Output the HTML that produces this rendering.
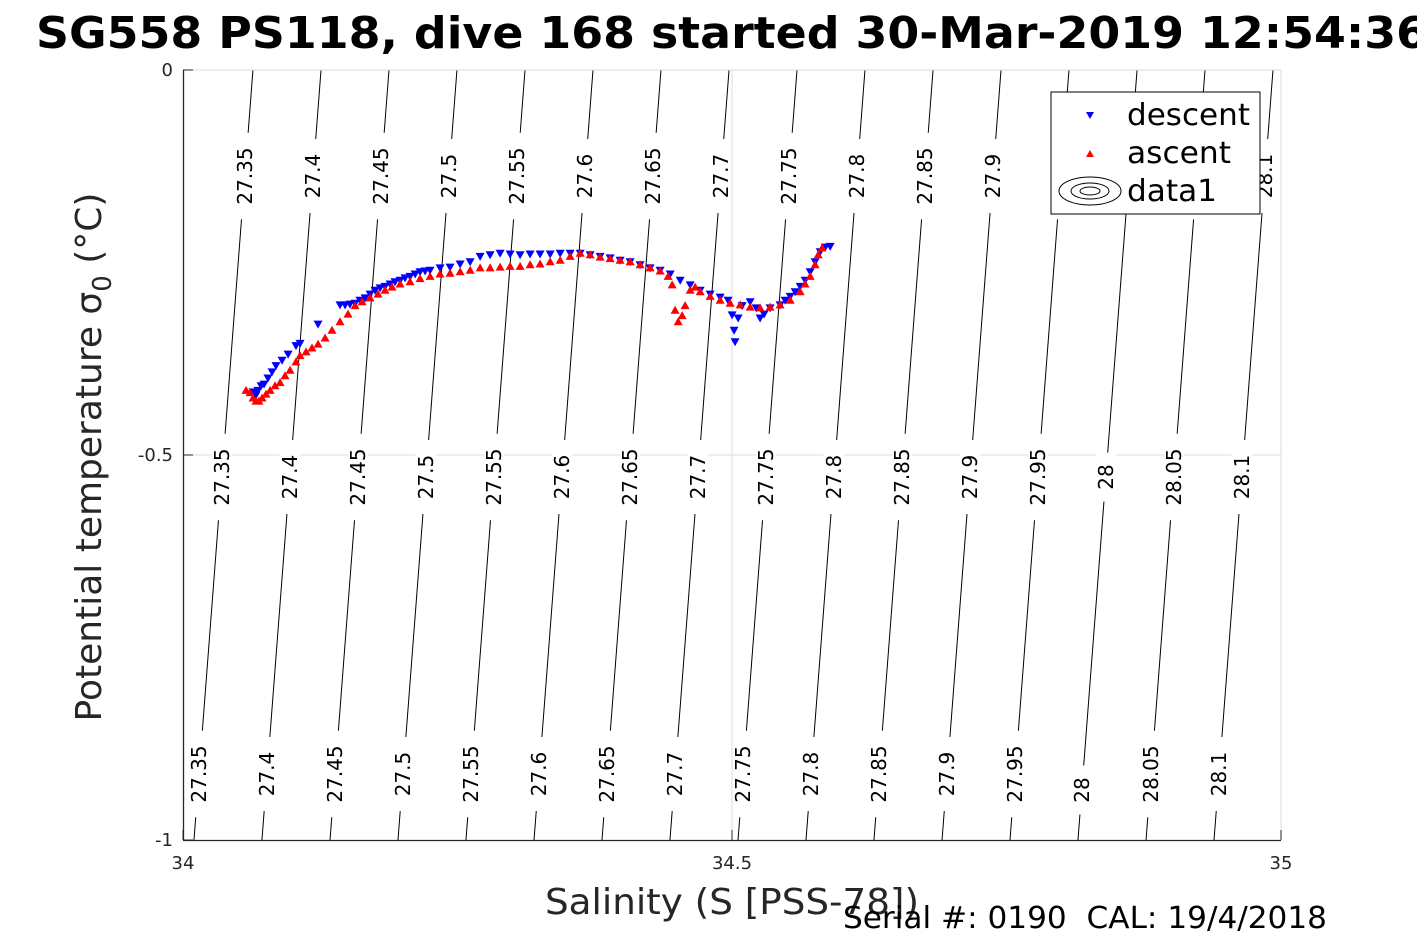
<!DOCTYPE html>
<html><head><meta charset="utf-8"><style>
body{margin:0;background:#fff;}
svg{display:block;font-family:"DejaVu Sans","Liberation Sans",sans-serif;}
</style></head><body>
<svg id="chart" width="1417" height="945" viewBox="0 0 1417 945" xmlns="http://www.w3.org/2000/svg">
<rect width="1417" height="945" fill="#fff"/>
<text x="36" y="48" font-size="44" font-weight="bold" fill="#000" textLength="1392" lengthAdjust="spacingAndGlyphs">SG558 PS118, dive 168 started 30-Mar-2019 12:54:36</text>
<defs><clipPath id="clip"><rect x="183" y="70" width="1098" height="770"/></clipPath></defs>
<g id="grid"></g>
<g id="contours" clip-path="url(#clip)"></g>
<g id="data" clip-path="url(#clip)"></g>
<g id="axes"></g>
<text x="732" y="914" font-size="36" text-anchor="middle" fill="#262626" textLength="374" lengthAdjust="spacingAndGlyphs">Salinity (S [PSS-78])</text>
<text transform="translate(101,457) rotate(-90)" font-size="36" text-anchor="middle" fill="#262626">Potential temperature σ<tspan font-size="26" dy="10">0</tspan><tspan dy="-10"> (°C)</tspan></text>
<text x="843" y="928" font-size="30" fill="#000" textLength="484" lengthAdjust="spacingAndGlyphs">Serial #: 0190&#160;&#160;CAL: 19/4/2018</text>
<g id="legend">
<rect x="1051" y="92" width="209" height="122" fill="#fff" stroke="#000" stroke-width="1"/>
<path d="M1086,112 L1094,112 L1090,119 Z" fill="#00f"/>
<text x="1127" y="125" font-size="30" textLength="123" lengthAdjust="spacingAndGlyphs">descent</text>
<path d="M1086,157 L1094,157 L1090,150 Z" fill="#f00"/>
<text x="1127" y="163" font-size="30" textLength="104" lengthAdjust="spacingAndGlyphs">ascent</text>
<g fill="none" stroke="#000" stroke-width="1">
<ellipse cx="1090" cy="191" rx="31" ry="14"/><ellipse cx="1090" cy="191" rx="19" ry="8"/><ellipse cx="1090" cy="191" rx="10" ry="4"/></g>
<text x="1127" y="201" font-size="30" textLength="90" lengthAdjust="spacingAndGlyphs">data1</text>
</g>
</svg>
<script>
const xTicks=[34,34.5,35];
const xTickLabels=["34","34.5","35"];
const yTicks=[0,-0.5,-1];
const yTickLabels=["0","-0.5","-1"];
const sigmaLevels=[27.35,27.4,27.45,27.5,27.55,27.6,27.65,27.7,27.75,27.8,27.85,27.9,27.95,28,28.05,28.1,28.15];
const sigmaLabels=["27.35","27.4","27.45","27.5","27.55","27.6","27.65","27.7","27.75","27.8","27.85","27.9","27.95","28","28.05","28.1",""];
const sigmaS0=[34.0637,34.1257,34.1876,34.2495,34.3115,34.3734,34.4353,34.4973,34.5592,34.6211,34.6831,34.7450,34.8069,34.8689,34.9308,34.9927,35.0546];
const sigmaS1=[34.0100,34.0719,34.1339,34.1958,34.2577,34.3197,34.3816,34.4435,34.5055,34.5674,34.6293,34.6913,34.7532,34.8151,34.8771,34.9390,35.0009];
const descentS=[34.0638,34.0665,34.0683,34.0711,34.0738,34.0774,34.0811,34.0847,34.0902,34.0957,34.1029,34.1066,34.1230,34.1430,34.1476,34.1521,34.1567,34.1612,34.1658,34.1704,34.1749,34.1795,34.1840,34.1886,34.1931,34.1977,34.2022,34.2068,34.2114,34.2159,34.2205,34.2250,34.2341,34.2432,34.2524,34.2615,34.2706,34.2797,34.2888,34.2979,34.3070,34.3161,34.3252,34.3344,34.3435,34.3526,34.3617,34.3708,34.3799,34.3890,34.3981,34.4072,34.4163,34.4254,34.4345,34.4437,34.4528,34.4619,34.4710,34.4801,34.4892,34.4964,34.5001,34.5019,34.5028,34.5056,34.5092,34.5165,34.5220,34.5256,34.5292,34.5347,34.5438,34.5484,34.5530,34.5575,34.5621,34.5666,34.5712,34.5757,34.5803,34.5849,34.5894];
const descentT=[-0.418,-0.422,-0.416,-0.410,-0.408,-0.400,-0.392,-0.384,-0.377,-0.369,-0.358,-0.355,-0.330,-0.305,-0.305,-0.304,-0.303,-0.299,-0.296,-0.291,-0.286,-0.283,-0.281,-0.278,-0.275,-0.273,-0.270,-0.268,-0.265,-0.262,-0.261,-0.260,-0.257,-0.256,-0.252,-0.249,-0.242,-0.240,-0.238,-0.239,-0.240,-0.239,-0.239,-0.239,-0.238,-0.238,-0.238,-0.240,-0.242,-0.244,-0.247,-0.249,-0.253,-0.257,-0.260,-0.265,-0.273,-0.279,-0.286,-0.291,-0.295,-0.299,-0.318,-0.338,-0.353,-0.322,-0.306,-0.301,-0.309,-0.322,-0.317,-0.309,-0.305,-0.299,-0.294,-0.288,-0.281,-0.273,-0.262,-0.249,-0.236,-0.230,-0.229];
const ascentS=[34.0574,34.0610,34.0638,34.0665,34.0692,34.0720,34.0756,34.0793,34.0838,34.0884,34.0929,34.0975,34.1029,34.1066,34.1121,34.1175,34.1230,34.1294,34.1357,34.1430,34.1503,34.1567,34.1631,34.1704,34.1776,34.1840,34.1904,34.1977,34.2068,34.2159,34.2250,34.2341,34.2432,34.2524,34.2615,34.2706,34.2797,34.2888,34.2979,34.3070,34.3161,34.3252,34.3344,34.3435,34.3526,34.3617,34.3708,34.3799,34.3890,34.3981,34.4072,34.4163,34.4254,34.4345,34.4418,34.4455,34.4482,34.4510,34.4546,34.4573,34.4619,34.4664,34.4710,34.4801,34.4892,34.4983,34.5074,34.5165,34.5256,34.5347,34.5438,34.5530,34.5621,34.5666,34.5712,34.5757,34.5785,34.5821];
const ascentT=[-0.416,-0.419,-0.426,-0.430,-0.430,-0.426,-0.421,-0.416,-0.410,-0.406,-0.397,-0.390,-0.379,-0.371,-0.366,-0.361,-0.356,-0.348,-0.338,-0.327,-0.317,-0.306,-0.301,-0.296,-0.291,-0.286,-0.282,-0.278,-0.275,-0.271,-0.268,-0.265,-0.264,-0.262,-0.260,-0.257,-0.257,-0.256,-0.255,-0.255,-0.253,-0.252,-0.249,-0.247,-0.242,-0.238,-0.240,-0.243,-0.245,-0.247,-0.249,-0.253,-0.257,-0.261,-0.268,-0.279,-0.312,-0.327,-0.319,-0.306,-0.286,-0.282,-0.288,-0.294,-0.299,-0.303,-0.305,-0.308,-0.309,-0.308,-0.305,-0.299,-0.288,-0.278,-0.268,-0.253,-0.240,-0.231];
const NS='http://www.w3.org/2000/svg';
const X0=183,X1=1281,Y0=70,Y1=840;
function xs(s){return X0+(s-34)*(X1-X0);}
function ys(t){return Y0+(0-t)*(Y1-Y0);}
function mk(tag,attrs,parent){const e=document.createElementNS(NS,tag);for(const k in attrs)e.setAttribute(k,attrs[k]);parent.appendChild(e);return e;}
const grid=document.getElementById('grid');
let g1=mk('line',{x1:xs(34.5),x2:xs(34.5),y1:Y0,y2:Y1,stroke:'#dcdcdc','stroke-width':1},grid);


let g2=mk('line',{x1:X0,x2:X1,y1:ys(-0.5),y2:ys(-0.5),stroke:'#dcdcdc','stroke-width':1},grid);


const cont=document.getElementById('contours');
const labelRows=[176,477,774];
sigmaLevels.forEach((lv,i)=>{
  const xt=xs(sigmaS0[i]),xb=xs(sigmaS1[i]);
  const ln=mk('line',{x1:xt,y1:Y0,x2:xb,y2:Y1,stroke:'#000','stroke-width':1},cont);
  
  
  const txt=sigmaLabels[i];
  if(!txt) return;
  labelRows.forEach(yc=>{
    let y=yc; if(txt==='28'&&yc===774) y=790;
    const f=(y-Y0)/(Y1-Y0);const x=xt+(xb-xt)*f;
    const w=txt.length*12.5+24;
    mk('rect',{x:x-10,y:y-w/2,width:20,height:w,fill:'#fff'},cont);
    const t=mk('text',{transform:`translate(${x+7},${y}) rotate(-90)`,'font-size':20,'text-anchor':'middle',fill:'#000'},cont);
    t.textContent=txt;
    
    
  });
});
const data=document.getElementById('data');
descentS.forEach((s,i)=>{const x=xs(s),y=ys(descentT[i]);
  const p=mk('path',{d:`M${x-4.5},${y-3.5} L${x+4.5},${y-3.5} L${x},${y+4.5} Z`,fill:'#00f'},data);
  
  });
ascentS.forEach((s,i)=>{const x=xs(s),y=ys(ascentT[i]);
  const p=mk('path',{d:`M${x-4.5},${y+3.5} L${x+4.5},${y+3.5} L${x},${y-4.5} Z`,fill:'#f00'},data);
  
  });
const axes=document.getElementById('axes');
mk('line',{x1:X0,y1:Y0,x2:X1,y2:Y0,stroke:'#dcdcdc'},axes);
mk('line',{x1:X1,y1:Y0,x2:X1,y2:Y1,stroke:'#dcdcdc'},axes);
const xa=mk('line',{x1:X0,y1:Y1+0.5,x2:X1,y2:Y1+0.5,stroke:'#262626','stroke-width':1.3},axes);


const ya=mk('line',{x1:X0+0.5,y1:Y0,x2:X0+0.5,y2:Y1,stroke:'#262626','stroke-width':1.3},axes);


xTicks.forEach((v,i)=>{const x=xs(v);
  mk('line',{x1:x,y1:Y1,x2:x,y2:Y1-10,stroke:'#262626'},axes);
  const t=mk('text',{x:x,y:Y1+29,'font-size':18,'text-anchor':'middle',fill:'#262626'},axes);
  t.textContent=xTickLabels[i];
  
  });
yTicks.forEach((v,i)=>{const y=ys(v);
  mk('line',{x1:X0,y1:y,x2:X0+10,y2:y,stroke:'#262626'},axes);
  const t=mk('text',{x:X0-10,y:y+6,'font-size':18,'text-anchor':'end',fill:'#262626'},axes);
  t.textContent=yTickLabels[i];
  
  });
</script>
</body></html>
